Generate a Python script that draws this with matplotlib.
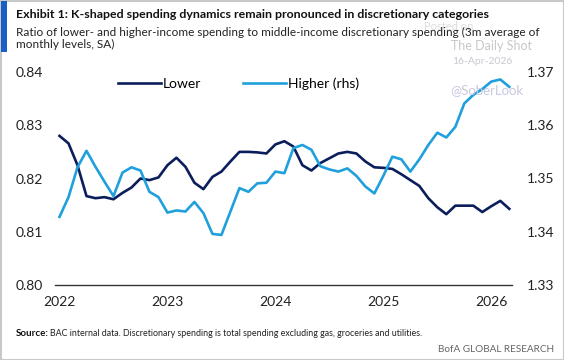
import matplotlib.pyplot as plt
import numpy as np
from matplotlib.patches import Rectangle

# ratio of lower-income spending to middle-income (lhs), monthly Jan-2022 .. Mar-2026
lower = [0.8280, 0.8266, 0.8225, 0.8167, 0.8163, 0.8165, 0.8161, 0.8173, 0.8183, 0.8200,
         0.8197, 0.8202, 0.8225, 0.8239, 0.8222, 0.8192, 0.8180, 0.8203, 0.8213, 0.8232,
         0.8250, 0.8250, 0.8249, 0.8247, 0.8264, 0.8270, 0.8260, 0.8225, 0.8215, 0.8229,
         0.8238, 0.8247, 0.8250, 0.8247, 0.8232, 0.8221, 0.8220, 0.8218, 0.8208, 0.8197,
         0.8186, 0.8163, 0.8146, 0.8133, 0.8149, 0.8149, 0.8149, 0.8137, 0.8148, 0.8158,
         0.8143]

# ratio of higher-income spending to middle-income (rhs)
higher = [1.3428, 1.3465, 1.3521, 1.3552, 1.3522, 1.3494, 1.3467, 1.3511, 1.3521, 1.3515,
          1.3475, 1.3465, 1.3436, 1.3440, 1.3438, 1.3456, 1.3435, 1.3396, 1.3394, 1.3438,
          1.3482, 1.3475, 1.3491, 1.3492, 1.3513, 1.3510, 1.3557, 1.3563, 1.3554, 1.3523,
          1.3517, 1.3513, 1.3519, 1.3505, 1.3485, 1.3472, 1.3505, 1.3541, 1.3536, 1.3513,
          1.3536, 1.3563, 1.3586, 1.3577, 1.3597, 1.3641, 1.3657, 1.3668, 1.3682, 1.3686,
          1.3672]

year_labels = ['2022', '2023', '2024', '2025', '2026']

navy = '#0b1e5b'
sky = '#1fa0dc'
plt.rcParams['font.family'] = ['Lato', 'DejaVu Sans']

W, H = 564, 360
fig = plt.figure(figsize=(W / 100, H / 100), dpi=100)

# frame + blue tab
fig.patches.append(Rectangle((0.5 / W, 0.5 / H), 1 - 1 / W, 1 - 1.5 / H, transform=fig.transFigure,
                             fill=False, edgecolor='#c8c8c8', linewidth=1.5))
fig.patches.append(Rectangle((1 / W, 1 - 52 / H), 6 / W, 51 / H, transform=fig.transFigure,
                             facecolor='#1a5fc8', edgecolor='none'))

x = np.arange(len(lower))
ax = fig.add_axes([55 / W, 75 / H, 457 / W, 213 / H])
ax2 = ax.twinx()

l1, = ax.plot(x, lower, color=navy, linewidth=1.9, label='Lower', solid_joinstyle='round')
l2, = ax2.plot(x, higher, color=sky, linewidth=1.9, label='Higher (rhs)', solid_joinstyle='round')

ax.set_xlim(-0.5, 50.3)
ax.set_ylim(0.80, 0.84)
ax2.set_ylim(1.33, 1.37)
ax.set_yticks([0.80, 0.81, 0.82, 0.83, 0.84])
ax2.set_yticks([1.33, 1.34, 1.35, 1.36, 1.37])
ax.set_xticks(np.arange(len(year_labels)) * 12)
ax.set_xticklabels(year_labels)

for a in (ax, ax2):
    for s in a.spines.values():
        s.set_visible(False)
    a.tick_params(length=0, labelsize=10, colors='#222222')
ax.spines['bottom'].set_visible(True)
ax.spines['bottom'].set_color('#333333')
ax.spines['bottom'].set_linewidth(1.0)
ax.tick_params(axis='y', pad=9)
ax2.tick_params(axis='y', pad=11)
ax.tick_params(axis='x', pad=8)

fig.legend(handles=[l1, l2], loc='center left', bbox_to_anchor=(118 / W, 1 - 84 / H),
           ncol=2, frameon=False, fontsize=10, handlelength=3.1, handletextpad=0.15,
           columnspacing=3.0, borderaxespad=0, borderpad=0)

# titles
fig.text(16 / W, 1 - 14 / H, 'Exhibit 1: K-shaped spending dynamics remain pronounced in discretionary categories',
         fontsize=8.9, fontweight='bold', va='center', color='#111111')
fig.text(16 / W, 1 - 38.5 / H,
         'Ratio of lower- and higher-income spending to middle-income discretionary spending (3m average of\nmonthly levels, SA)',
         fontsize=8.5, va='center', color='#222222', linespacing=1.05)

# watermarks
fig.text(424 / W, 1 - 27 / H, 'Posted on', fontsize=8, color='#dcdcdc', ha='left', va='center', zorder=0)
fig.text(451 / W, 1 - 46 / H, 'The Daily Shot', fontsize=9, color='#c8c8c8', ha='left', va='center', zorder=0)
fig.text(452 / W, 1 - 61 / H, '16-Apr-2026', fontsize=7.5, color='#c8c8d0', ha='left', va='center')
fig.text(450 / W, 1 - 90 / H, '@SoberLook', fontsize=9.5, color='#c8c8e0', ha='left', va='center')

# footer
fig.text(16 / W, 1 - 333 / H, 'Source:', fontsize=7, fontweight='bold', va='center', color='#111111')
fig.text(50 / W, 1 - 333 / H,
         'BAC internal data. Discretionary spending is total spending excluding gas, groceries and utilities.',
         fontsize=6.4, va='center', color='#222222')
fig.text(554 / W, 1 - 349 / H, 'BofA GLOBAL RESEARCH', fontsize=7.2, ha='right', va='center', color='#666666')

fig.savefig('out.png', dpi=100)
